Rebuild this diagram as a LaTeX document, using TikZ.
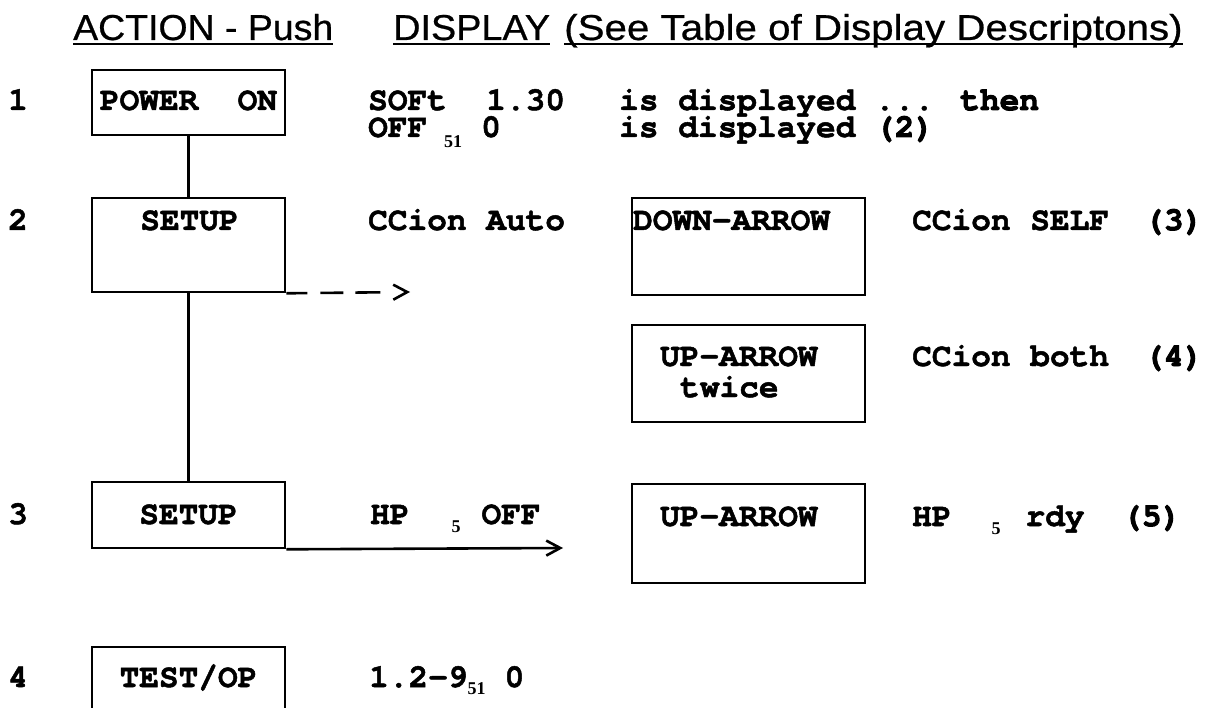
\documentclass[tikz,border=0pt]{standalone}
\usepackage{fontspec}
\usepackage{graphicx}
\setmainfont{texgyrecursor}[Extension=.otf, UprightFont=*-regular, BoldFont=*-bold, BoldFeatures={FakeBold=1.5}]
\newfontfamily\heavy{texgyrecursor}[Extension=.otf, UprightFont=*-bold, FakeBold=3]
\newfontfamily\hdfont{Liberation Sans}[FakeBold=0.6]
\newfontfamily\subfont{Liberation Serif}
\usetikzlibrary{arrows.meta}
\newcommand\lowsub[2]{\raisebox{#1}{\subfont\bfseries\fontsize{18}{18}\selectfont #2}}
\newcommand\twolines[3]{\vtop{\baselineskip=#1\lineskiplimit=-100pt\hbox{#2}\hbox{#3}}}
\begin{document}
\begin{tikzpicture}[x=1pt,y=-1pt,
  box/.style={draw,line width=2.6pt,inner sep=0pt},
  lbox/.style={box,minimum width=193pt},
  rbox/.style={box,minimum width=233pt},
  monofree/.style={anchor=base west,inner sep=0pt,font=\fontsize{32.8}{32.8}\selectfont\bfseries},
  mono/.style={monofree,text height=20pt,text depth=3pt},
  monoc/.style={mono,anchor=base},
  hd/.style={anchor=base west,inner sep=0pt,font=\hdfont\fontsize{36}{36}\selectfont},
  uline/.style={line width=2.6pt},
  conn/.style={line width=2.6pt},
  tipend/.style={-{Straight Barb[length=14pt,width=15pt]}}
]
\path[use as bounding box,fill=white] (0,0) rectangle (1206,708);
\clip (0,0) rectangle (1206,708);

% headers
\node[hd] (h1) at (73,40) {\scalebox{1.04}[1]{ACTION - Push}};
\node[hd] (h2) at (393,40) {\scalebox{1.05}[1]{DISPLAY}};
\node[hd] (h3) at (564,40) {\scalebox{1.12}[1]{(See Table of Display Descriptons)}};
\draw[uline] ([yshift=-4pt]h1.base west) -- ([yshift=-4pt]h1.base east);
\draw[uline] ([yshift=-4pt]h2.base west) -- ([yshift=-4pt]h2.base east);
\draw[uline] ([yshift=-4pt]h3.base west) -- ([yshift=-4pt]h3.base east);

% boxes
\node[lbox,minimum height=65pt] (b1) at (188.5,102.5) {};
\node[lbox,minimum height=94pt] (b2) at (188.5,245) {};
\node[lbox,minimum height=66pt] (b3) at (188.5,515) {};
\node[lbox,minimum height=94pt] (b4) at (188.5,694) {};
\node[rbox,minimum height=97pt] (b5) at (748.5,246.5) {};
\node[rbox,minimum height=97pt] (b6) at (748.5,373.5) {};
\node[rbox,minimum height=99pt] (b7) at (748.5,533.5) {};

% connectors
\draw[conn] (b1.south) -- (b2.north);
\draw[conn] (b2.south) -- (b3.north);
\coordinate (d2) at (410,292);
\draw[conn,tipend,dash pattern=on 21pt off 13pt on 23pt off 12pt on 25pt off 30pt] (b2.south east) -- (d2);
\coordinate (d3) at (563,548);
\draw[conn,tipend] (b3.south east) -- (d3);

% row numbers
\node[mono] (n1) at (8,110) {1};
\node[mono] (n2) at (8,230) {2};
\node[mono] (n3) at (8,524) {3};
\node[mono] (n4) at (8,687) {4};

% box texts
\node[monoc] (tb1) at (188.5,110) {POWER\ \ ON};
\node[monoc] (tb2) at (189.5,230) {SETUP};
\node[monoc] (tb3) at (188.5,524) {SETUP};
\node[monoc] (tb4) at (188.5,687) {TEST/OP};
\node[mono] (tb5) at (633,230) {DOWN-ARROW};
\node[monofree] (tb6) at (660,366) {\twolines{31pt}{UP-ARROW}{\hspace{20pt}twice}};
\node[mono] (tb7) at (660,526) {UP-ARROW};

% display texts
\node[monofree] (s1) at (368,110) {\twolines{27pt}{SOFt\ \ 1.30}{OFF\hspace{17pt}\lowsub{-11pt}{51}\hspace{19pt}0}};
\node[monofree] (r1) at (619,110) {\twolines{27pt}{is displayed ... {\heavy then}}{is displayed {\heavy (2)}}};
\node[mono] (c2) at (368,230) {CCion Auto};
\node[mono] (c3) at (912,230) {CCion SELF};
\node[mono] (p3) at (1144,230) {\heavy (3)};
\node[mono] (c4) at (912,366) {CCion both};
\node[mono] (p4) at (1144,366) {\heavy (4)};
\node[mono] (h5) at (370,524) {HP\hspace{42pt}\lowsub{-8pt}{5}\hspace{21pt}OFF};
\node[mono] (h6) at (912,526) {HP\hspace{40pt}\lowsub{-8pt}{5}\hspace{25pt}rdy};
\node[mono] (p5) at (1122,526) {\heavy (5)};
\node[mono] (t4) at (369,687) {1.2-9\lowsub{-7pt}{51}\hspace{19pt}0};
\end{tikzpicture}
\end{document}
